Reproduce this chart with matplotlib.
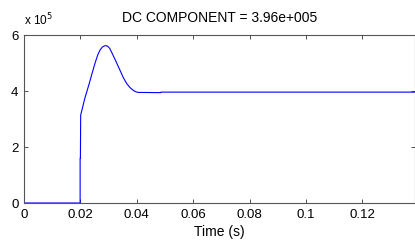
import numpy as np
import matplotlib.pyplot as plt

plt.rcParams['font.family'] = ['Liberation Sans', 'DejaVu Sans']
plt.rcParams['font.size'] = 9.5

# time (s) and signal (x 1e5)
t = [0.0, 0.0199, 0.0199, 0.0200, 0.0201, 0.0216, 0.0230, 0.0242, 0.0252, 0.0262,
     0.0270, 0.0278, 0.0285, 0.0291, 0.0297, 0.0304, 0.0311, 0.0325, 0.0340,
     0.0352, 0.0364, 0.0376, 0.0388, 0.0397, 0.0405, 0.0485, 0.0486, 0.1400]
y = [0.0, 0.0, 1.6, 1.6, 3.14, 3.75, 4.22, 4.65, 5.00, 5.30,
     5.47, 5.57, 5.61, 5.62, 5.60, 5.52, 5.38, 5.08, 4.75,
     4.48, 4.27, 4.12, 4.02, 3.97, 3.95, 3.94, 3.96, 3.96]

xticks = [0, 0.02, 0.04, 0.06, 0.08, 0.1, 0.12]
xticklabels = ['0', '0.02', '0.04', '0.06', '0.08', '0.1', '0.12']
yticks = [0, 2, 4, 6]
title = 'DC COMPONENT = 3.96e+005'

fig = plt.figure(figsize=(4.15, 2.43), dpi=100)
ax = fig.add_axes([24 / 415, 40 / 243, 391 / 415, 168 / 243])

ax.plot(t, y, color='#0000ff', linewidth=0.8)
ax.set_xlim(0, 391 / 2820)
ax.set_ylim(0, 6)
ax.set_xticks(xticks)
ax.set_xticklabels(xticklabels)
ax.set_yticks(yticks)
ax.tick_params(direction='in', length=3, width=0.6, color='#333333',
               top=True, right=True, pad=4, labelsize=9.5)
for s in ax.spines.values():
    s.set_linewidth(0.8)
    s.set_color('#555555')

ax.set_title(title, fontsize=10, pad=9)
ax.set_xlabel('Time (s)', fontsize=10, labelpad=3)
ax.text(0, 1.04, r'x 10$^5$', transform=ax.transAxes, fontsize=8.5,
        ha='left', va='bottom')

fig.savefig('out.png', dpi=100)
